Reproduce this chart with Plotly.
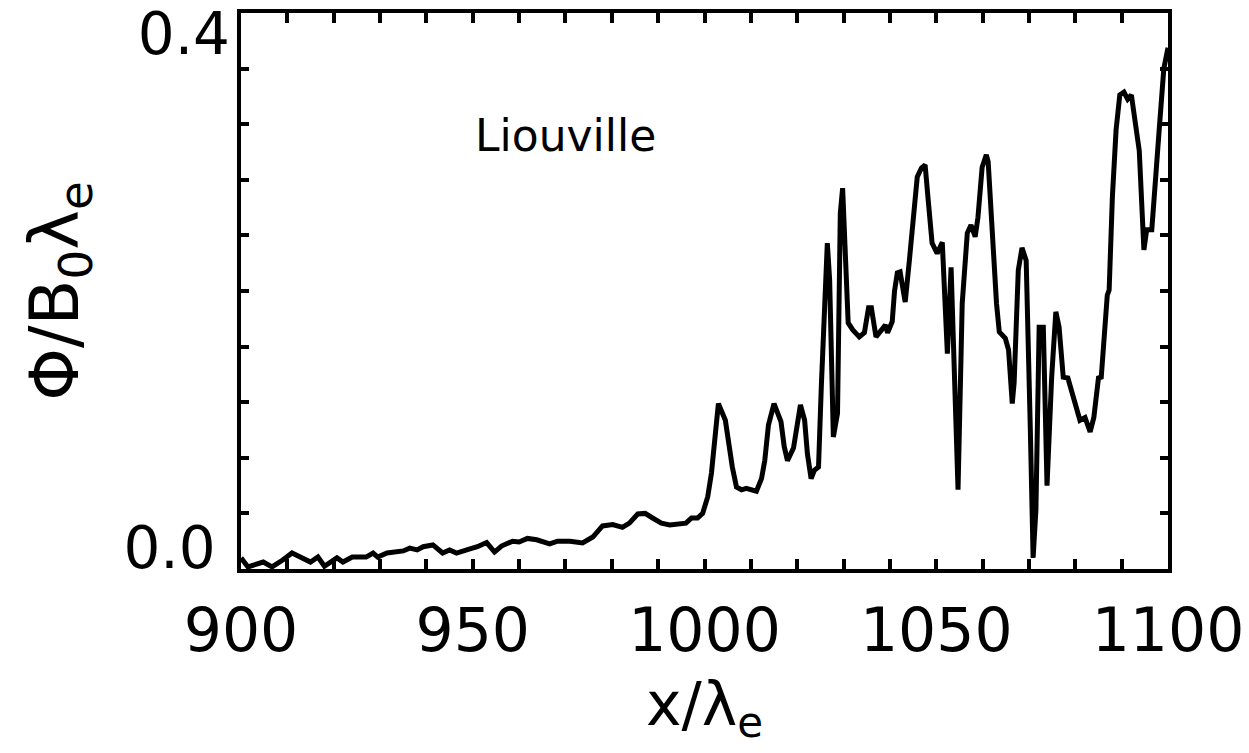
import plotly.graph_objects as go

# Data
x_pos = [900, 901.5, 904.8, 906.7, 909, 911, 915, 916.6, 918, 920.7, 922, 924, 927, 928.5,
         929.5, 931.5, 935, 936.4, 938, 939.3, 941.4, 943.5, 945, 946.5, 949.4, 951, 953,
         954.7, 956.2, 958.6, 960, 961.8, 963.8, 966.6, 968.3, 971, 973.7, 975.9, 978,
         980.2, 982.3, 983.8, 985.6, 987.2, 988.8, 990.7, 992.5, 994.8, 996, 997.2, 998.5,
         999.6, 1000.7, 1001.5, 1002.2, 1003, 1004.5, 1005.2, 1006, 1006.9, 1008, 1009,
         1011.2, 1012.3, 1013, 1013.8, 1015, 1016.5, 1017.2, 1017.9, 1019.2, 1020.7, 1021.6,
         1022.2, 1023, 1023.7, 1024.6, 1025.2, 1026.5, 1027, 1027.8, 1028.7, 1029.3, 1029.8,
         1030.4, 1031, 1032, 1033.4, 1034.5, 1035.4, 1036, 1037, 1038.2, 1039, 1039.5,
         1040.5, 1041, 1041.6, 1042.2, 1043.3, 1044.2, 1045, 1045.9, 1046.8, 1047.6, 1048.3,
         1049.1, 1050.2, 1051.3, 1052.4, 1053.2, 1054.7, 1055.6, 1056.7, 1057.5, 1058.4,
         1059, 1059.9, 1060.8, 1061.2, 1062.1, 1063, 1063.6, 1064.9, 1065.6, 1066.4, 1066.8,
         1067.7, 1068.5, 1069.4, 1070.3, 1070.9, 1071.5, 1072.2, 1073.1, 1073.9, 1074.9,
         1075.8, 1076.5, 1077.4, 1078.4, 1079.3, 1080.2, 1081, 1082.1, 1083.2, 1084, 1085,
         1085.6, 1086, 1086.9, 1087.3, 1088, 1088.8, 1089.6, 1090.5, 1091.3, 1092.1, 1092.8,
         1093.8, 1094.8, 1095.4, 1096.5, 1097.4, 1098.1, 1099.1, 1100]
phi = [0.008, 0.0015, 0.005, 0.0015, 0.0065, 0.0115, 0.005, 0.0086, 0.002, 0.008, 0.005,
       0.0086, 0.0086, 0.0115, 0.0086, 0.0115, 0.013, 0.015, 0.0137, 0.016, 0.0173, 0.0115,
       0.0137, 0.0115, 0.0144, 0.016, 0.019, 0.0122, 0.0165, 0.020, 0.0194, 0.022, 0.021,
       0.018, 0.020, 0.020, 0.0187, 0.023, 0.031, 0.032, 0.030, 0.033, 0.0396, 0.040,
       0.0367, 0.033, 0.0317, 0.033, 0.033, 0.0367, 0.0367, 0.040, 0.052, 0.069, 0.093,
       0.119, 0.107, 0.0906, 0.0734, 0.059, 0.057, 0.058, 0.056, 0.065, 0.078, 0.1036,
       0.119, 0.106, 0.088, 0.078, 0.087, 0.118, 0.107, 0.083, 0.065, 0.071, 0.0734, 0.131,
       0.2345, 0.208, 0.095, 0.112, 0.256, 0.274, 0.2245, 0.177, 0.172, 0.167, 0.170,
       0.188, 0.188, 0.167, 0.172, 0.1755, 0.170, 0.178, 0.200, 0.213, 0.2137, 0.192,
       0.222, 0.2547, 0.282, 0.2885, 0.2906, 0.264, 0.2345, 0.227, 0.235, 0.155, 0.217,
       0.057, 0.191, 0.2417, 0.2475, 0.239, 0.253, 0.289, 0.298, 0.293, 0.239, 0.191,
       0.1705, 0.166, 0.1576, 0.119, 0.134, 0.215, 0.231, 0.222, 0.100, 0.008, 0.0424,
       0.174, 0.174, 0.060, 0.138, 0.185, 0.174, 0.138, 0.1374, 0.1266, 0.114, 0.107,
       0.109, 0.0986, 0.109, 0.1374, 0.138, 0.1576, 0.197, 0.2007, 0.2676, 0.316, 0.341,
       0.343, 0.338, 0.341, 0.323, 0.301, 0.2295, 0.244, 0.244, 0.280, 0.316, 0.360, 0.375]

x_major = [900, 950, 1000, 1050, 1100]
x_labels = ["900", "950", "1000", "1050", "1100"]
y_low_tick, y_low_label = [0.0], ["0.0"]
y_high_tick, y_high_label = [0.4], ["0.4"]
x_range = [900, 1100]
y_range = [0.0, 0.4]
label_text = "Liouville"

FONT = "DejaVu Sans"

fig = go.Figure()
fig.add_trace(go.Scatter(x=x_pos, y=phi, mode="lines",
                         line=dict(color="black", width=5), hoverinfo="skip",
                         showlegend=False))
fig.add_trace(go.Scatter(x=[None], y=[None], yaxis="y2", mode="lines",
                         showlegend=False, hoverinfo="skip"))

fig.add_annotation(x=950, y=0.312, xref="x", yref="y", text=label_text,
                   showarrow=False, xanchor="left", yanchor="middle",
                   font=dict(family=FONT, size=44, color="black"))

fig.update_layout(
    width=1249, height=753,
    margin=dict(l=241, r=81, t=13, b=184, autoexpand=False),
    paper_bgcolor="white", plot_bgcolor="white",
    font=dict(family=FONT, color="black"),
    xaxis=dict(
        range=x_range, tickvals=x_major, ticktext=x_labels, automargin=False,
        ticks="inside", ticklen=10, tickwidth=3.5, tickcolor="black",
        showline=True, linewidth=3.5, linecolor="black", mirror="allticks",
        showgrid=False, zeroline=False,
        tickfont=dict(family=FONT, size=60),
        ticklabelstandoff=6,
        minor=dict(dtick=10, ticks="inside", ticklen=5, tickwidth=3.5,
                   tickcolor="black", showgrid=False),
        title=dict(text="x/λ<sub>e</sub>", font=dict(family=FONT, size=60), standoff=20),
    ),
    yaxis=dict(
        range=y_range, tickvals=y_low_tick, ticktext=y_low_label, automargin=False,
        ticks="inside", ticklen=8, tickwidth=3.5, tickcolor="black",
        showline=True, linewidth=3.5, linecolor="black", mirror="allticks",
        showgrid=False, zeroline=False,
        tickfont=dict(family=FONT, size=58),
        ticklabelstandoff=10, ticklabelshift=-21,
        minor=dict(dtick=0.04, tick0=0, ticks="inside", ticklen=8, tickwidth=3.5,
                   tickcolor="black", showgrid=False),
        title=dict(text="Φ/B<sub>0</sub>λ<sub>e</sub>", font=dict(family=FONT, size=67),
                   standoff=24),
    ),
    yaxis2=dict(
        range=y_range, overlaying="y", side="left", tickvals=y_high_tick,
        ticktext=y_high_label, ticks="", showline=False, showgrid=False,
        zeroline=False, tickfont=dict(family=FONT, size=58), automargin=False,
        ticklabelstandoff=10, ticklabelshift=21,
    ),
)

fig.write_html("out.html")
